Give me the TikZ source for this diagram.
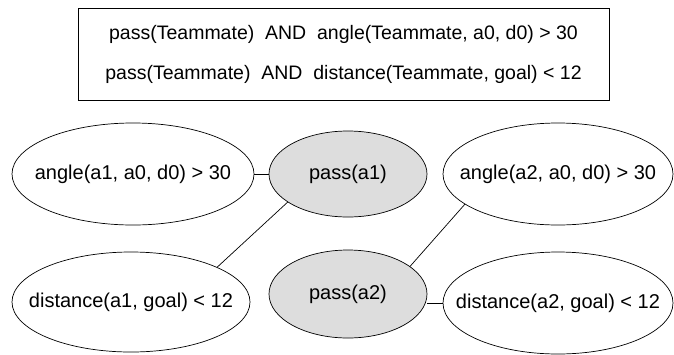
\documentclass[tikz,border=0pt]{standalone}
\usepackage{fontspec}
\setmainfont{Liberation Sans}
\usetikzlibrary{shapes.geometric}
\definecolor{actfill}{RGB}{221,221,221}

\begin{document}
\begin{tikzpicture}[x=1pt, y=-1pt,
        rule/.style={draw, rectangle, line width=0.7pt, minimum width=531pt, minimum height=92pt, align=center,
            font=\fontsize{19.5}{40}\selectfont},
        cond/.style={draw, ellipse, line width=0.7pt, inner sep=0pt},
        act/.style={cond, fill=actfill},
        txt/.style={anchor=center, font=\fontsize{20}{24}\selectfont},
        link/.style={-, line width=0.7pt}
    ]
\useasboundingbox (0,0) rectangle (674,354);

\node[rule] (rules) at (343.5,54) {pass(Teammate)\ \ AND\ \ angle(Teammate, a0, d0) > 30\\pass(Teammate)\ \ AND\ \ distance(Teammate, goal) < 12};

        \node[cond, minimum width=242pt, minimum height=102pt, label={[txt]center:angle(a1, a0, d0) > 30}] (ang1) at (133,174) {};
        \node[act, minimum width=158pt, minimum height=86pt, label={[txt]center:pass(a1)}] (pass1) at (348,174) {};
        \node[cond, minimum width=238pt, minimum height=100pt, label={[txt]center:distance(a1, goal) < 12}] (dist1) at (131,302) {};

        \node[act, minimum width=158pt, minimum height=88pt, label={[txt]center:pass(a2)}] (pass2) at (348,294) {};
        \node[cond, minimum width=230pt, minimum height=102pt, label={[txt]center:angle(a2, a0, d0) > 30}] (ang2) at (558,174) {};
        \node[cond, minimum width=230pt, minimum height=102pt, label={[txt]center:distance(a2, goal) < 12}] (dist2) at (558,303) {};

\draw[link] (ang1.east) -- (pass1.west);
        \draw[link] (pass1.205) -- (dist1.22);
        \draw[link] (pass2.24) -- (ang2.198);
        \draw[link] (dist2.west -| pass2.east) -- (dist2.west);

    \end{tikzpicture}
\end{document}
